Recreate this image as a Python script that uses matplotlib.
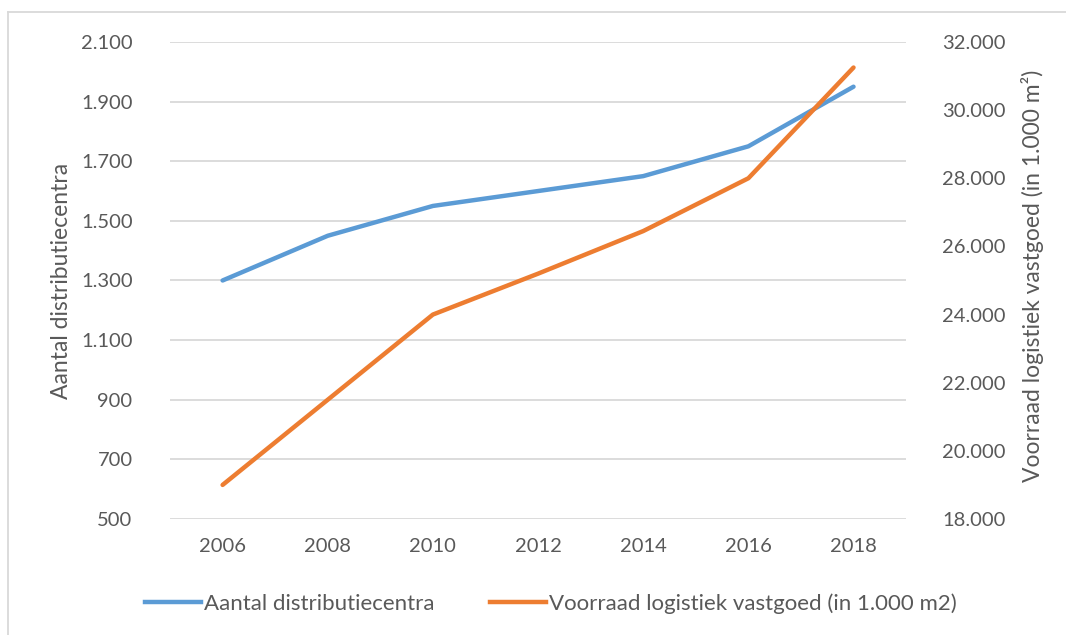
import matplotlib
matplotlib.use("Agg")
import matplotlib.pyplot as plt
from matplotlib.ticker import FuncFormatter
from matplotlib.lines import Line2D

jaren = [2006, 2008, 2010, 2012, 2014, 2016, 2018]
aantal_dc = [1300, 1450, 1550, 1600, 1650, 1750, 1950]
voorraad = [19000, 21500, 24000, 25200, 26450, 28000, 31250]

ticks_links = [500, 700, 900, 1100, 1300, 1500, 1700, 1900, 2100]
ticks_rechts = [18000, 20000, 22000, 24000, 26000, 28000, 30000, 32000]

label_links = "Aantal distributiecentra"
label_rechts = "Voorraad logistiek vastgoed (in 1.000 m²)"
legenda = ["Aantal distributiecentra", "Voorraad logistiek vastgoed (in 1.000 m2)"]

blauw = "#5B9BD5"
oranje = "#ED7D31"
grijs = "#595959"

plt.rcParams["font.family"] = ["Lato", "DejaVu Sans"]


def punt(x, pos):
    return f"{int(x):,}".replace(",", ".")


fig = plt.figure(figsize=(10.66, 6.35), dpi=100)
ax = fig.add_axes([0.1595, 0.1827, 0.6905, 0.7512])
ax2 = ax.twinx()

ax.plot(jaren, aantal_dc, color=blauw, lw=3.2, solid_capstyle="round", zorder=3)
ax2.plot(jaren, voorraad, color=oranje, lw=3.2, solid_capstyle="round", zorder=3)

ax.set_xlim(2005, 2019)
ax.set_xticks(jaren)
ax.set_ylim(500, 2100)
ax.set_yticks(ticks_links)
ax2.set_ylim(18000, 32000)
ax2.set_yticks(ticks_rechts)
ax.yaxis.set_major_formatter(FuncFormatter(punt))
ax2.yaxis.set_major_formatter(FuncFormatter(punt))

ax.grid(axis="y", color="#D9D9D9", lw=1.3)
ax.set_axisbelow(True)
for a in (ax, ax2):
    for s in a.spines.values():
        s.set_visible(False)
    a.tick_params(length=0, labelsize=14.5, labelcolor=grijs)
ax.tick_params(axis="y", pad=27)
ax2.tick_params(axis="y", pad=26)
ax.tick_params(axis="x", pad=14)
ax2.set_zorder(ax.get_zorder() + 1)
ax2.patch.set_visible(False)

ax.set_ylabel(label_links, fontsize=16.5, color=grijs)
ax2.set_ylabel(label_rechts, fontsize=16.5, color=grijs)
ax.yaxis.set_label_coords(-0.133, 0.5)
ax2.yaxis.set_label_coords(1.156, 0.51)

handles = [Line2D([], [], color=blauw, lw=3.2), Line2D([], [], color=oranje, lw=3.2)]
fig.legend(handles, legenda, loc="center", bbox_to_anchor=(0.517, 0.05), ncol=2,
           frameon=False, fontsize=16, labelcolor=grijs, handlelength=2.5,
           handletextpad=0.15, columnspacing=2.5)

# kader rond de grafiek
fig.add_artist(Line2D([8 / 1066, 1], [1 - 12 / 635, 1 - 12 / 635],
                      transform=fig.transFigure, color="#D9D9D9", lw=1.3))
fig.add_artist(Line2D([8 / 1066, 8 / 1066], [0, 1 - 12 / 635],
                      transform=fig.transFigure, color="#D9D9D9", lw=1.3))

fig.savefig("out.png", dpi=100)
